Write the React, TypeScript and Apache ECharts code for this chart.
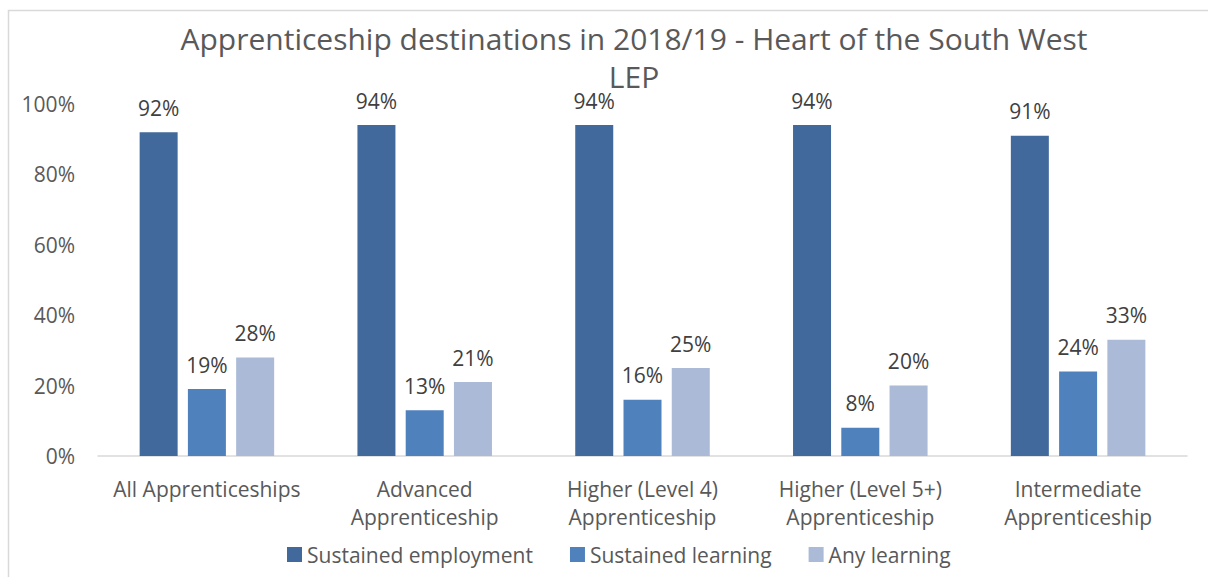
import React, { useEffect, useRef } from "react";
import * as echarts from "echarts";

const categories = [
  "All Apprenticeships",
  "Advanced\nApprenticeship",
  "Higher (Level 4)\nApprenticeship",
  "Higher (Level 5+)\nApprenticeship",
  "Intermediate\nApprenticeship",
];
const sustainedEmployment = [92, 94, 94, 94, 91];
const sustainedLearning = [19, 13, 16, 8, 24];
const anyLearning = [28, 21, 25, 20, 33];
const seriesNames = ["Sustained employment", "Sustained learning", "Any learning"];
const titleText = "Apprenticeship destinations in 2018/19 - Heart of the South West\nLEP";

const FONT = "Open Sans";
const colors = ["#41699B", "#4F81BD", "#AABAD7"];

export default function App() {
  const ref = useRef<HTMLDivElement>(null);
  useEffect(() => {
    if (!ref.current) return;
    const chart = echarts.init(ref.current, undefined, { renderer: "svg" });
    const mk = (name: string, data: number[], color: string) => ({
      name,
      type: "bar",
      data,
      barWidth: 38,
      barGap: "27%",
      itemStyle: { color },
      label: {
        show: true,
        position: "top",
        distance: 14,
        formatter: "{c}%",
        color: "#404040",
        fontFamily: FONT,
        fontSize: 21,
      },
    });
    chart.setOption({
      animation: false,
      textStyle: { fontFamily: FONT },
      title: {
        text: titleText,
        left: 629,
        top: 14,
        textAlign: "center",
        textStyle: {
          fontFamily: FONT,
          fontSize: 30,
          fontWeight: "normal",
          color: "#595959",
          lineHeight: 38,
        },
      },
      graphic: [
        {
          type: "rect",
          shape: { x: 8.5, y: 10.5, width: 1300, height: 700 },
          style: { fill: "none", stroke: "#D9D9D9", lineWidth: 1.5 },
          silent: true,
        },
      ],
      legend: {
        left: 282,
        top: 539,
        icon: "rect",
        itemWidth: 15,
        itemHeight: 15,
        itemGap: 37,
        textStyle: { fontFamily: FONT, fontSize: 21, color: "#595959" },
        data: seriesNames,
      },
      grid: { left: 98, right: 21, top: 104, bottom: 121, containLabel: false },
      xAxis: {
        type: "category",
        data: categories,
        axisLine: { lineStyle: { color: "#D9D9D9", width: 1.5 } },
        axisTick: { show: false },
        axisLabel: {
          fontFamily: FONT,
          fontSize: 21,
          color: "#595959",
          lineHeight: 28,
          margin: 19,
          interval: 0,
        },
      },
      yAxis: {
        type: "value",
        min: 0,
        max: 100,
        interval: 20,
        splitLine: { show: false },
        axisLine: { show: false },
        axisTick: { show: false },
        axisLabel: {
          formatter: "{value}%",
          fontFamily: FONT,
          fontSize: 21,
          color: "#595959",
          margin: 23,
        },
      },
      series: [
        mk(seriesNames[0], sustainedEmployment, colors[0]),
        mk(seriesNames[1], sustainedLearning, colors[1]),
        mk(seriesNames[2], anyLearning, colors[2]),
      ],
    });
    return () => chart.dispose();
  }, []);
  return (
    <div
      ref={ref}
      style={{ position: "absolute", left: 0, top: 0, width: 1208, height: 577, background: "#fff" }}
    />
  );
}
